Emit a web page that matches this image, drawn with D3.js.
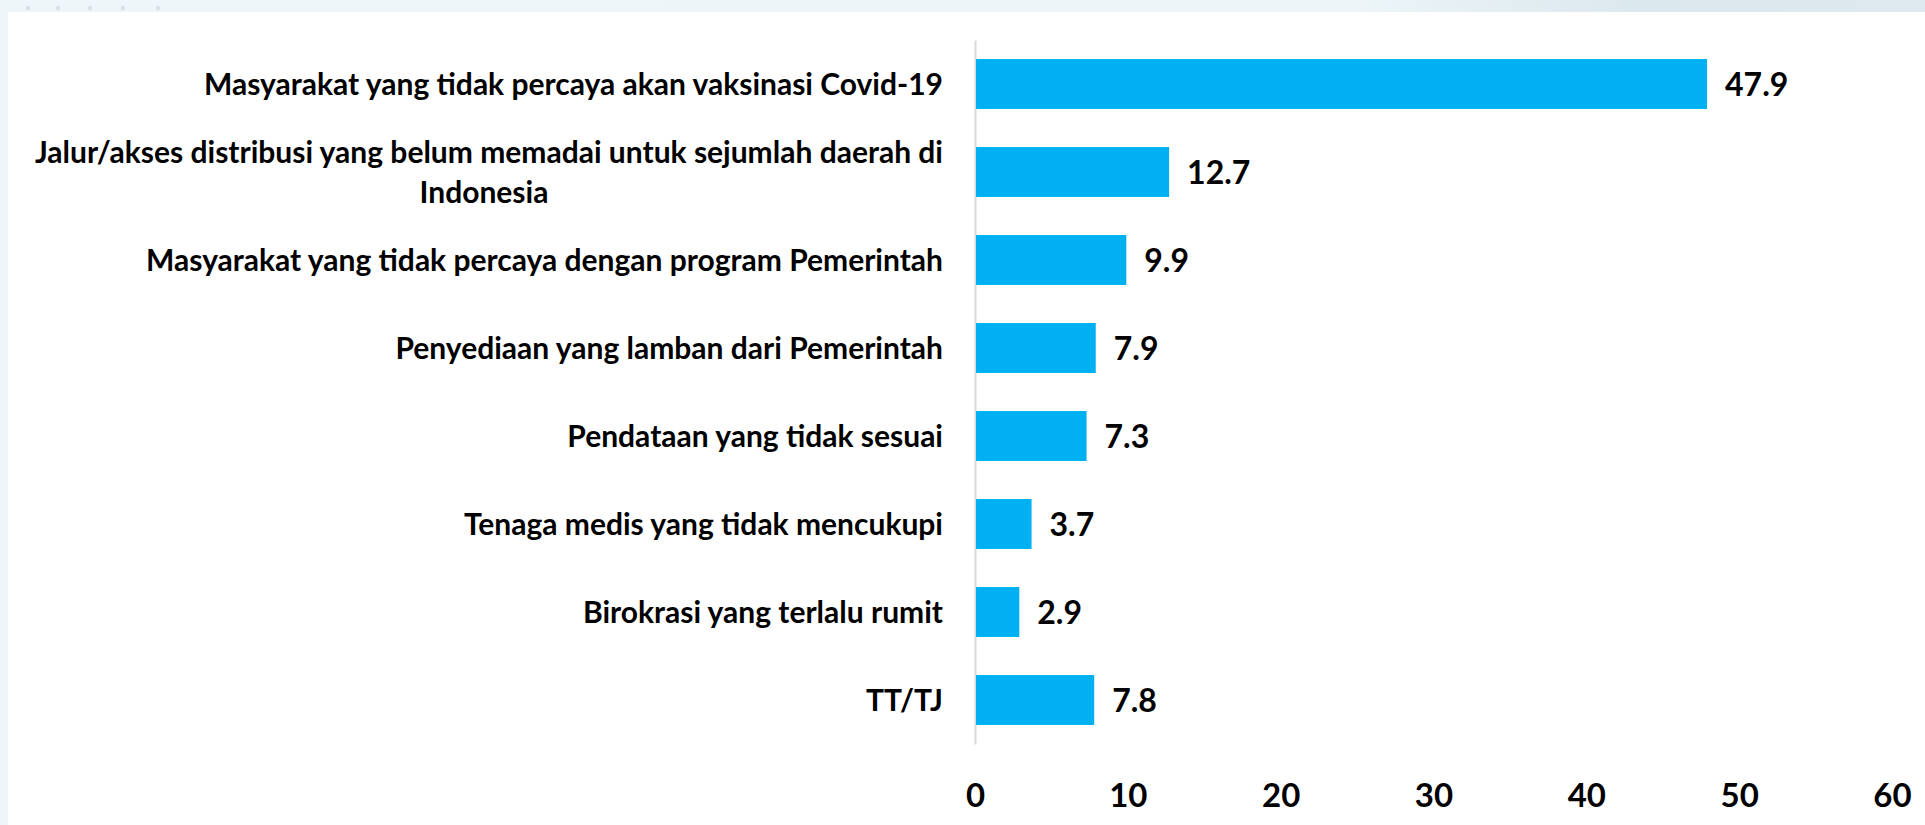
<!DOCTYPE html>
<html>
<head>
<meta charset="utf-8">
<script src="https://cdn.jsdelivr.net/npm/d3@7"></script>
<style>
  html, body { margin: 0; padding: 0; background: #eef6f9; }
  svg { display: block; }
</style>
</head>
<body>
<div id="chart"></div>
<script>
// data
const categories = [
  "Masyarakat yang tidak percaya akan vaksinasi Covid-19",
  "Jalur/akses distribusi yang belum memadai untuk sejumlah daerah di|Indonesia",
  "Masyarakat yang tidak percaya dengan program Pemerintah",
  "Penyediaan yang lamban dari Pemerintah",
  "Pendataan yang tidak sesuai",
  "Tenaga medis yang tidak mencukupi",
  "Birokrasi yang terlalu rumit",
  "TT/TJ"
];
const values = [47.9, 12.7, 9.9, 7.9, 7.3, 3.7, 2.9, 7.8];
const xTicks = [0, 10, 20, 30, 40, 50, 60];

function main() {
  const W = 1925, H = 825;
  const svg = d3.select("#chart").append("svg").attr("width", W).attr("height", H);

  // background: light frame + white panel
  const defs = svg.append("defs");
  const grad = defs.append("linearGradient").attr("id", "topband");
  grad.append("stop").attr("offset", "0%").attr("stop-color", "#eef6f9");
  grad.append("stop").attr("offset", "70%").attr("stop-color", "#edf5f8");
  grad.append("stop").attr("offset", "85%").attr("stop-color", "#dbe8ee");
  grad.append("stop").attr("offset", "100%").attr("stop-color", "#dde9ef");
  svg.append("rect").attr("width", W).attr("height", H).attr("fill", "#eef6f9");
  svg.append("rect").attr("width", W).attr("height", 12).attr("fill", "url(#topband)");
  svg.selectAll(".dot").data([28, 58, 90, 123, 158]).join("rect")
    .attr("x", d => d - 2).attr("y", 6).attr("width", 4).attr("height", 4)
    .attr("fill", "#d8e2e6");
  svg.append("rect").attr("x", 8).attr("y", 12).attr("width", W - 8).attr("height", H - 12).attr("fill", "#ffffff");

  const x = d3.scaleLinear().domain([0, 60]).range([975, 1892]);
  const y = d3.scaleBand().domain(d3.range(categories.length))
    .range([40, 744]).paddingInner(0.432).paddingOuter(0.216);

  // vertical axis line
  const gy = svg.append("g").attr("transform", `translate(${x(0)},0)`)
    .call(d3.axisLeft(y).tickSize(0).tickSizeOuter(0).tickFormat(""));
  gy.select(".domain").attr("stroke", "#d9d9d9").attr("stroke-width", 2);

  // bars
  svg.append("g").selectAll("rect").data(values).join("rect")
    .attr("x", x(0) + 1)
    .attr("y", (d, i) => y(i))
    .attr("width", d => x(d) - x(0) - 1)
    .attr("height", y.bandwidth())
    .attr("fill", "#00b0f0");

  // value labels
  svg.append("g").selectAll("text").data(values).join("text")
    .attr("x", d => x(d) + 18)
    .attr("y", (d, i) => y(i) + y.bandwidth() / 2 + 11.5)
    .attr("font-family", "Lato, sans-serif")
    .attr("font-weight", 700)
    .attr("font-size", 32)
    .attr("fill", "#000")
    .text(d => d.toFixed(1));

  // category labels
  const labelRight = 943, labelCenter = 484, fs = 30;
  const lg = svg.append("g")
    .attr("font-family", "Lato, sans-serif")
    .attr("font-weight", 700)
    .attr("font-size", fs)
    .attr("fill", "#000");
  categories.forEach((c, i) => {
    const lines = c.split("|");
    const cy = y(i) + y.bandwidth() / 2;
    const lh = 40;
    const top = cy - (lines.length - 1) * lh / 2;
    lines.forEach((ln, j) => {
      lg.append("text")
        .attr("x", j === 0 ? labelRight : labelCenter)
        .attr("y", top + j * lh + fs * 0.36)
        .attr("text-anchor", j === 0 ? "end" : "middle")
        .text(ln);
    });
  });

  // x axis
  const gx = svg.append("g").attr("transform", "translate(0,795)")
    .call(d3.axisBottom(x).tickValues(xTicks).tickSize(0).tickFormat(d3.format("d")));
  gx.select(".domain").remove();
  gx.selectAll("text")
    .attr("y", 0).attr("dy", "0.36em")
    .attr("font-family", "Lato, sans-serif")
    .attr("font-weight", 700)
    .attr("font-size", 33)
    .attr("fill", "#000");
}

main();
</script>
</body>
</html>
